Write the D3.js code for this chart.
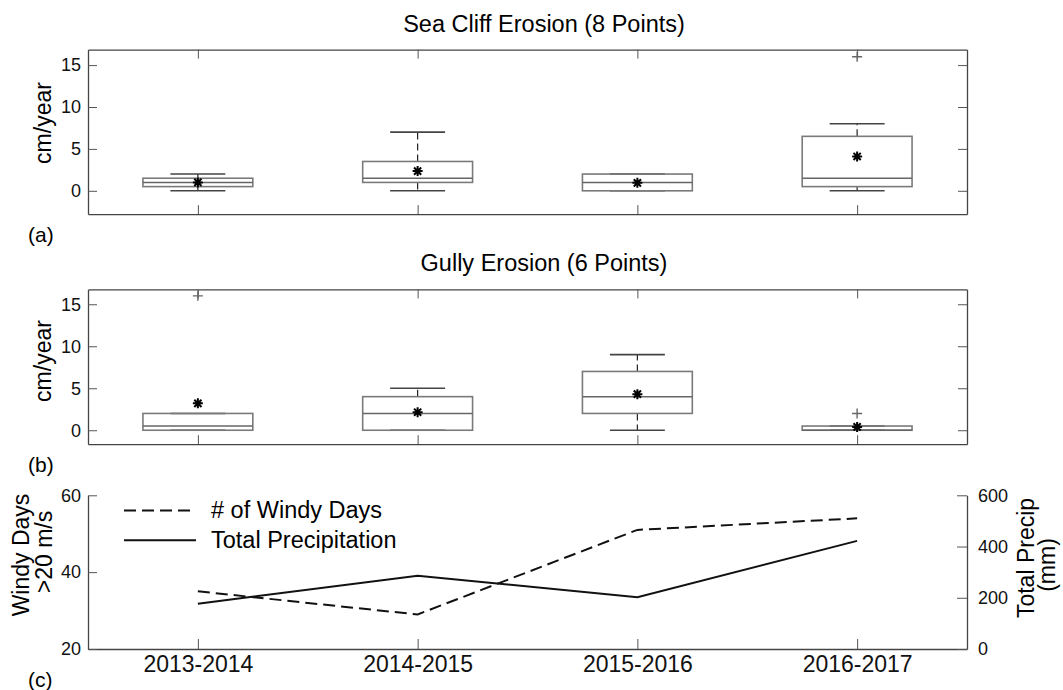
<!DOCTYPE html>
<html>
<head>
<meta charset="utf-8">
<script src="https://cdn.jsdelivr.net/npm/d3@7"></script>
<style>
  body { margin: 0; background: #fff; }
  svg { font-family: "Liberation Sans", Arial, sans-serif; }
  .frame path.domain { stroke: #444; stroke-width: 1.3; }
  .frame .tick line { stroke: #555; }
  .frame .tick text { fill: #111; }
</style>
</head>
<body>
<svg id="chart" width="1063" height="690"></svg>
<script>
// data ---------------------------------------------
var years = ["2013-2014", "2014-2015", "2015-2016", "2016-2017"];

// sea cliff erosion (cm/year), box statistics per year
var cliffLow  = [0, 0, 0, 0];
var cliffQ1   = [0.5, 1, 0, 0.5];
var cliffMed  = [1, 1.5, 1, 1.5];
var cliffQ3   = [1.5, 3.5, 2, 6.5];
var cliffHigh = [2, 7, 2, 8];
var cliffOut  = [[], [], [], [16]];
var cliffMean = [1.0, 2.35, 0.95, 4.1];

// gully erosion (cm/year)
var gullyLow  = [0, 0, 0, 0];
var gullyQ1   = [0, 0, 2, 0];
var gullyMed  = [0.5, 2, 4, 0];
var gullyQ3   = [2, 4, 7, 0.5];
var gullyHigh = [2, 5, 9, 0.5];
var gullyOut  = [[16], [], [], [2]];
var gullyMean = [3.2, 2.15, 4.3, 0.4];

// weather
var windyDays = [35, 29, 51, 54];
var totalPrecip = [177, 286, 202, 422];

var erosionTicks = [0, 5, 10, 15];
var windyTicks = [20, 40, 60];
var precipTicks = [0, 200, 400, 600];

// layout -------------------------------------------
var svg = d3.select("#chart");
var left = 88, right = 967;

var x = d3.scaleLinear().domain([0.5, 4.5]).range([left, right]);
var xPos = function(i) { return x(i + 1); };

function boxPanel(top, bottom, yDomain, title, letter, letterY, labelY, low, q1, med, q3, high, outs, means) {
    var y = d3.scaleLinear().domain(yDomain).range([bottom, top]);
    var g = svg.append("g");

    // frame with inward ticks on all sides
    g.append("g").attr("class", "frame")
        .attr("transform", "translate(0," + bottom + ")")
        .call(d3.axisBottom(x).tickValues([1, 2, 3, 4]).tickSizeInner(-9).tickSizeOuter(0).tickFormat(""));
    g.append("g").attr("class", "frame")
        .attr("transform", "translate(0," + top + ")")
        .call(d3.axisTop(x).tickValues([1, 2, 3, 4]).tickSizeInner(-9).tickSizeOuter(0).tickFormat(""));
    g.append("g").attr("class", "frame")
        .attr("transform", "translate(" + left + ",0)")
        .call(d3.axisLeft(y).tickValues(erosionTicks).tickSizeInner(-9).tickSizeOuter(0).tickPadding(7))
        .selectAll("text").attr("font-size", 18);
    g.append("g").attr("class", "frame")
        .attr("transform", "translate(" + right + ",0)")
        .call(d3.axisRight(y).tickValues(erosionTicks).tickSizeInner(-9).tickSizeOuter(0).tickFormat(""));
    g.selectAll(".frame text").attr("font-family", null);

    var bw = (x(1.25) - x(1)), cw = (x(1.125) - x(1));
    var boxes = g.selectAll(".box").data(years).enter().append("g");

    // whiskers (dashed)
    boxes.append("line")
        .attr("x1", function(d, i) { return xPos(i); }).attr("x2", function(d, i) { return xPos(i); })
        .attr("y1", function(d, i) { return y(q3[i]); }).attr("y2", function(d, i) { return y(high[i]); })
        .attr("stroke", "#222").attr("stroke-width", 1.2).attr("stroke-dasharray", "7,4");
    boxes.append("line")
        .attr("x1", function(d, i) { return xPos(i); }).attr("x2", function(d, i) { return xPos(i); })
        .attr("y1", function(d, i) { return y(q1[i]); }).attr("y2", function(d, i) { return y(low[i]); })
        .attr("stroke", "#222").attr("stroke-width", 1.2).attr("stroke-dasharray", "7,4");
    // caps
    [high, low].forEach(function(arr) {
        boxes.append("line")
            .attr("x1", function(d, i) { return xPos(i) - cw; }).attr("x2", function(d, i) { return xPos(i) + cw; })
            .attr("y1", function(d, i) { return y(arr[i]); }).attr("y2", function(d, i) { return y(arr[i]); })
            .attr("stroke", "#444").attr("stroke-width", 1.6);
    });
    // box
    boxes.append("rect")
        .attr("x", function(d, i) { return xPos(i) - bw; })
        .attr("width", 2 * bw)
        .attr("y", function(d, i) { return y(q3[i]); })
        .attr("height", function(d, i) { return y(q1[i]) - y(q3[i]); })
        .attr("fill", "none").attr("stroke", "#7a7a7a").attr("stroke-width", 1.6);
    // median
    boxes.append("line")
        .attr("x1", function(d, i) { return xPos(i) - bw; }).attr("x2", function(d, i) { return xPos(i) + bw; })
        .attr("y1", function(d, i) { return y(med[i]); }).attr("y2", function(d, i) { return y(med[i]); })
        .attr("stroke", "#666").attr("stroke-width", 1.5);
    // outliers
    boxes.each(function(d, i) {
        var cell = d3.select(this);
        outs[i].forEach(function(v) {
            cell.append("path")
                .attr("d", "M" + (xPos(i) - 5) + "," + y(v) + "h10M" + xPos(i) + "," + (y(v) - 5) + "v10")
                .attr("stroke", "#666").attr("stroke-width", 1.4).attr("fill", "none");
        });
    });
    // mean asterisk
    boxes.append("path")
        .attr("transform", function(d, i) { return "translate(" + xPos(i) + "," + y(means[i]) + ")"; })
        .attr("d", "M-5,0H5M0,-5V5M-3.6,-3.6L3.6,3.6M-3.6,3.6L3.6,-3.6")
        .attr("stroke", "#000").attr("stroke-width", 2).attr("fill", "none");

    // texts
    g.append("text").attr("x", 544).attr("y", top - 18)
        .attr("text-anchor", "middle").attr("font-size", 23.5).text(title);
    g.append("text").attr("transform", "translate(51," + labelY + ") rotate(-90)")
        .attr("text-anchor", "middle").attr("font-size", 23).text("cm/year");
    g.append("text").attr("x", 28).attr("y", letterY).attr("font-size", 21).text(letter);
}

boxPanel(49.6, 214.1, [-2.78, 16.85], "Sea Cliff Erosion (8 Points)", "(a)", 242, 123,
    cliffLow, cliffQ1, cliffMed, cliffQ3, cliffHigh, cliffOut, cliffMean);
boxPanel(289.4, 444.1, [-1.65, 16.77], "Gully Erosion (6 Points)", "(b)", 472, 361,
    gullyLow, gullyQ1, gullyMed, gullyQ3, gullyHigh, gullyOut, gullyMean);

// panel c ------------------------------------------
var cTop = 495.3, cBottom = 649;
var yWind = d3.scaleLinear().domain([20, 60]).range([cBottom, cTop]);
var yRain = d3.scaleLinear().domain([0, 600]).range([cBottom, cTop]);
var gc = svg.append("g");

var xAxisC = gc.append("g").attr("class", "frame")
    .attr("transform", "translate(0," + cBottom + ")")
    .call(d3.axisBottom(x).tickValues([1, 2, 3, 4]).tickSizeInner(-10).tickSizeOuter(0).tickPadding(4)
        .tickFormat(function(d) { return years[d - 1]; }));
xAxisC.selectAll(".tick line").attr("stroke", "#888");
xAxisC.selectAll("text").attr("font-size", 23).attr("dy", null).attr("y", 22.7);

gc.append("g").attr("class", "frame")
    .attr("transform", "translate(" + left + ",0)")
    .call(d3.axisLeft(yWind).tickValues(windyTicks).tickSizeInner(-9).tickSizeOuter(0).tickPadding(7))
    .selectAll("text").attr("font-size", 18);
gc.append("g").attr("class", "frame")
    .attr("transform", "translate(" + right + ",0)")
    .call(d3.axisRight(yRain).tickValues(precipTicks).tickSizeInner(-10).tickSizeOuter(0).tickPadding(11))
    .selectAll("text").attr("font-size", 18);
gc.selectAll(".frame text").attr("font-family", null);

var windLine = d3.line().x(function(d, i) { return xPos(i); }).y(function(d) { return yWind(d); });
var rainLine = d3.line().x(function(d, i) { return xPos(i); }).y(function(d) { return yRain(d); });

gc.append("path").datum(windyDays).attr("d", windLine)
    .attr("fill", "none").attr("stroke", "#111").attr("stroke-width", 2).attr("stroke-dasharray", "12,6");
gc.append("path").datum(totalPrecip).attr("d", rainLine)
    .attr("fill", "none").attr("stroke", "#111").attr("stroke-width", 2);

// legend
var legend = gc.append("g");
legend.append("line").attr("x1", 124).attr("x2", 196).attr("y1", 510.5).attr("y2", 510.5)
    .attr("stroke", "#111").attr("stroke-width", 2).attr("stroke-dasharray", "12,6");
legend.append("text").attr("x", 211).attr("y", 518).attr("font-size", 23.5).text("# of Windy Days");
legend.append("line").attr("x1", 124).attr("x2", 196).attr("y1", 540.3).attr("y2", 540.3)
    .attr("stroke", "#111").attr("stroke-width", 2);
legend.append("text").attr("x", 211).attr("y", 548).attr("font-size", 23.5).text("Total Precipitation");

// axis labels
gc.append("text").attr("transform", "translate(29,555) rotate(-90)")
    .attr("text-anchor", "middle").attr("font-size", 23).text("Windy Days");
gc.append("text").attr("transform", "translate(52,552) rotate(-90)")
    .attr("text-anchor", "middle").attr("font-size", 23).text(">20 m/s");
gc.append("text").attr("transform", "translate(1034,558) rotate(-90)")
    .attr("text-anchor", "middle").attr("font-size", 23).text("Total Precip");
gc.append("text").attr("transform", "translate(1055,565) rotate(-90)")
    .attr("text-anchor", "middle").attr("font-size", 23).text("(mm)");
gc.append("text").attr("x", 28).attr("y", 687).attr("font-size", 21).text("(c)");
</script>
</body>
</html>
